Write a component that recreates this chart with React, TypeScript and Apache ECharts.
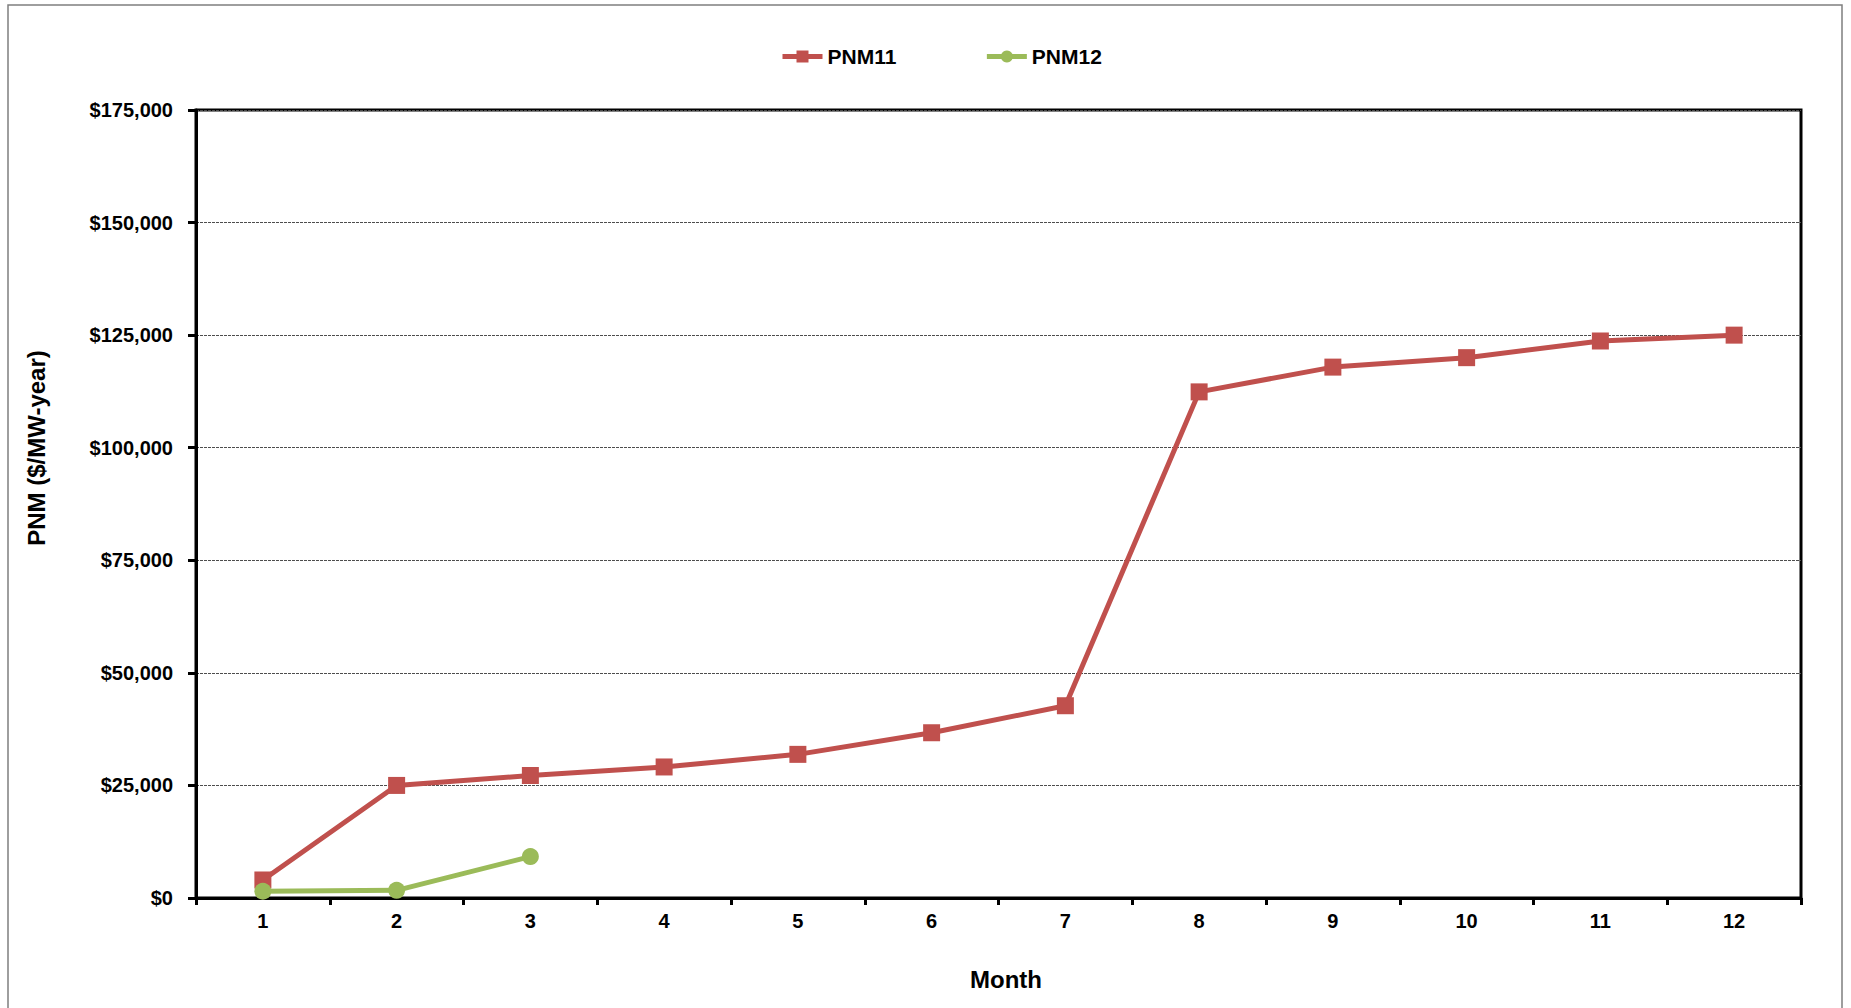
import React, { useEffect, useRef } from "react";
import * as echarts from "echarts";

const months = ["1", "2", "3", "4", "5", "6", "7", "8", "9", "10", "11", "12"];
const pnm11 = [4000, 25000, 27200, 29100, 31900, 36700, 42700, 112400, 117900, 120000, 123700, 125000];
const pnm12 = [1500, 1700, 9200];
const yTicks = { min: 0, max: 175000, interval: 25000 };

const fmt = (v: number) => "$" + v.toLocaleString("en-US");

export default function App() {
  const ref = useRef<HTMLDivElement>(null);
  useEffect(() => {
    if (!ref.current) return;
    const chart = echarts.init(ref.current, null, { renderer: "svg" });
    const font = "Arial, 'Liberation Sans', sans-serif";
    chart.setOption({
      animation: false,
      backgroundColor: "#fff",
      textStyle: { fontFamily: font },
      graphic: [
        {
          type: "rect",
          shape: { x: 8, y: 5, width: 1834, height: 1030 },
          style: { fill: "none", stroke: "#7f7f7f", lineWidth: 1.5 },
          silent: true,
        },
        {
          type: "text",
          x: 36,
          y: 448,
          rotation: Math.PI / 2,
          style: {
            text: "PNM ($/MW-year)",
            fontSize: 24,
            fontWeight: "bold",
            fill: "#000",
            fontFamily: font,
            align: "center",
            verticalAlign: "middle",
          },
          silent: true,
        },
        {
          type: "text",
          x: 1006,
          y: 979,
          style: {
            text: "Month",
            fontSize: 24,
            fontWeight: "bold",
            fill: "#000",
            fontFamily: font,
            align: "center",
            verticalAlign: "middle",
          },
          silent: true,
        },
      ],
      legend: {
        left: 775,
        top: 41,
        itemWidth: 40,
        itemHeight: 15,
        itemGap: 88,
        lineStyle: { width: 5 },
        textStyle: { fontSize: 21, fontWeight: "bold", color: "#000", fontFamily: font },
        data: ["PNM11", "PNM12"],
      },
      grid: {
        left: 196,
        right: 50,
        top: 110,
        bottom: 110,
        show: true,
        borderColor: "#000",
        borderWidth: 3,
        backgroundColor: "transparent",
      },
      xAxis: {
        type: "category",
        data: months,
        boundaryGap: true,
        axisLine: { lineStyle: { color: "#000", width: 3 } },
        axisTick: { show: true, inside: false, length: 7, lineStyle: { color: "#000", width: 3 } },
        axisLabel: { fontSize: 20, fontWeight: "bold", color: "#000", margin: 13, fontFamily: font },
        splitLine: { show: false },
      },
      yAxis: {
        type: "value",
        min: yTicks.min,
        max: yTicks.max,
        interval: yTicks.interval,
        axisLine: { show: true, lineStyle: { color: "#000", width: 3 } },
        axisTick: { show: true, inside: false, length: 8, lineStyle: { color: "#000", width: 3 } },
        axisLabel: {
          fontSize: 20,
          fontWeight: "bold",
          color: "#000",
          margin: 23,
          fontFamily: font,
          formatter: (v: number) => fmt(v),
        },
        splitLine: { show: true, lineStyle: { color: "#4d4d4d", width: 1, type: [3, 1] } },
      },
      series: [
        {
          name: "PNM11",
          type: "line",
          data: pnm11,
          symbol: "rect",
          symbolSize: 17,
          lineStyle: { color: "#C0504D", width: 5 },
          itemStyle: { color: "#C0504D" },
          z: 3,
        },
        {
          name: "PNM12",
          type: "line",
          data: pnm12,
          symbol: "circle",
          symbolSize: 17,
          lineStyle: { color: "#9BBB59", width: 5 },
          itemStyle: { color: "#9BBB59" },
          z: 4,
        },
      ],
    });
    return () => chart.dispose();
  }, []);
  return (
    <div
      ref={ref}
      style={{ position: "fixed", left: 0, top: 0, width: 1851, height: 1008 }}
    />
  );
}
